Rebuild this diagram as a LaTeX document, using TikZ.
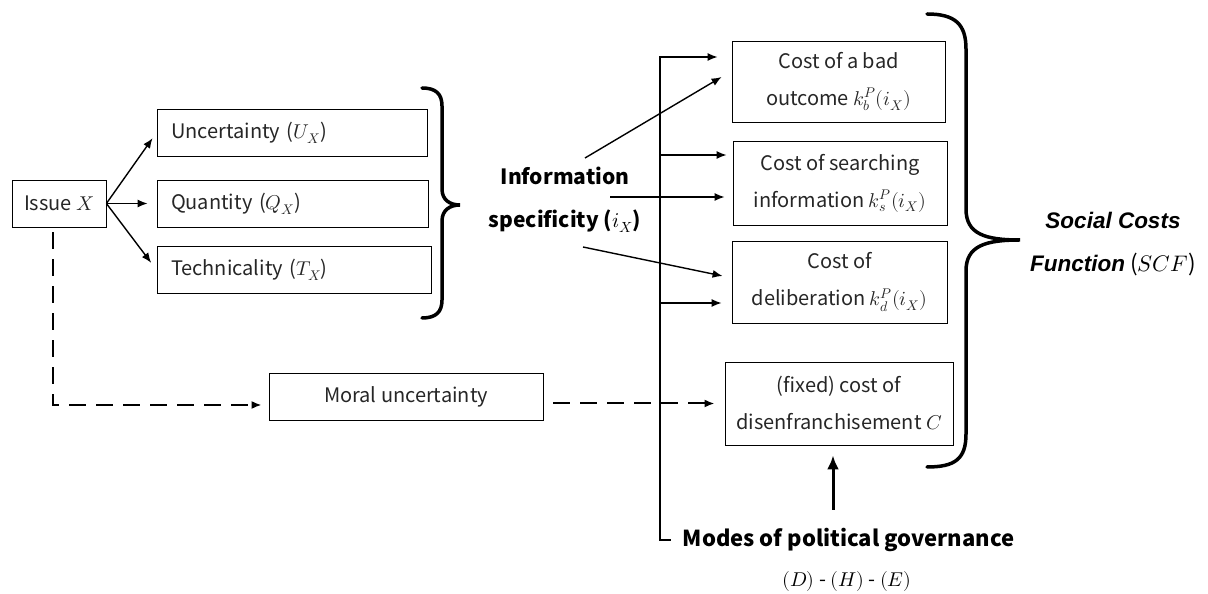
\documentclass[tikz,border=0pt]{standalone}
\usepackage{fontspec}
\usepackage{unicode-math}
\setmainfont{Noto Sans CJK JP}
\newfontfamily\scffont{Liberation Sans}
\usetikzlibrary{arrows.meta}
\begin{document}
\begin{tikzpicture}[x=1pt, y=1pt,
        box/.style={draw, line width=.8pt, inner sep=0pt, align=center, text=black!85, font=\fontsize{20}{37}\selectfont},
        listbox/.style={draw, line width=.8pt, inner xsep=14pt, inner ysep=0pt, text width=#1, minimum height=47pt, align=left, text=black!85, font=\fontsize{20}{24}\selectfont},
        arr/.style={line width=1.4pt, -{Latex[length=10pt,width=8pt]}},
        dasharr/.style={arr, line width=2pt, dash pattern=on 17pt off 10pt},
        brace/.style={line width=3.5pt, line cap=round}]
    \useasboundingbox (0,0) rectangle (1208,594);
    \node[box, minimum width=94pt, minimum height=47pt] (issue) at (59,390.5) {Issue $X$};
    \node[listbox=242pt] (unc) at (292,461.5) {Uncertainty ($U_X$)};
    \node[listbox=243pt] (qua) at (292.5,390.5) {Quantity ($Q_X$)};
    \node[listbox=246pt] (tec) at (294,324) {Technicality ($T_X$)};
    \node[box, minimum width=274pt, minimum height=47pt] (moral) at (406,197.5) {Moral uncertainty};
    \node[align=center, font=\bfseries\fontsize{21}{43}\selectfont] (info) at (565,394) {Information\\specificity ($i_X$)};
    \node[box, minimum width=213pt, minimum height=81pt] (bad) at (838.5,512.5) {Cost of a bad\\outcome $k_b^P(i_X)$};
    \node[box, minimum width=214pt, minimum height=84pt] (search) at (840,411) {Cost of searching\\information $k_s^P(i_X)$};
    \node[box, minimum width=215pt, minimum height=82pt] (delib) at (839.5,312) {Cost of\\deliberation $k_d^P(i_X)$};
    \node[box, minimum width=228pt, minimum height=83pt] (disf) at (839,190.5) {(fixed) cost of\\disenfranchisement $C$};
    \node[inner sep=0pt, font=\bfseries\fontsize{22}{26}\selectfont] (modes) at (848.5,54) {Modes of political governance};
    \node[font=\fontsize{20}{24}\selectfont] (dhe) at (847,12) {$(D)$ - $(H)$ - $(E)$};
    \node[align=center, font=\fontsize{22.5}{43}\selectfont] (scf) at (1113,350) {{\scffont\bfseries\itshape Social Costs}\\{\scffont\bfseries\itshape Function} ($SCF$)};
    \draw[arr, shorten >=7pt] (issue.east) -- (unc.west);
    \draw[arr, shorten >=9pt] (issue.east) -- (qua.west);
    \draw[arr, shorten >=9pt] (issue.east) -- (tec.west);
    \draw[dasharr] ([xshift=-6pt,yshift=-5pt]issue.south) |- ([shift={(-7,-8.5)}]moral.west);
    \draw[dasharr, shorten <=10pt, shorten >=10pt] (moral.east |- disf.west) -- (disf.west);
    \draw[brace] (422,506) .. controls (436,506) and (442,500) .. (442,488) -- (442,405)
        .. controls (442,394) and (450,389) .. (460,389) .. controls (450,389) and (442,384) .. (442,373)
        -- (442,294) .. controls (442,282) and (436,276) .. (422,276);
    \draw[arr] ([shift={(20,42)}]info.center) -- ([shift={(-10,4.5)}]bad.west);
    \draw[arr] ([shift={(45,3)}]info.center) -- ([shift={(-8,-14)}]search.west);
    \draw[arr] ([shift={(18,-47)}]info.center) -- ([shift={(-9,6)}]delib.west);
    \coordinate (bustop) at (660,537);
    \coordinate (busmid) at (660,439);
    \coordinate (buslow) at (660,291);
    \draw[line width=2.8pt] (bustop) -- (bustop |- modes.west) -- ([xshift=-12pt]modes.west);
    \draw[arr, shorten >=14pt] ([xshift=-1pt]bustop) -- (bustop -| bad.west);
    \draw[arr, shorten >=6pt] (busmid) -- (busmid -| search.west);
    \draw[arr, shorten >=10pt] (buslow) -- (buslow -| delib.west);
    \coordinate (upfoot) at (833,84);
    \draw[line width=3pt, -{Latex[length=14pt,width=12pt]}, shorten >=10pt] (upfoot) -- (upfoot |- disf.south);
    \draw[brace] (927,580) .. controls (955,580) and (966,570) .. (966,545) -- (966,385)
        .. controls (966,360) and (985,354) .. (1020,354) .. controls (985,354) and (966,348) .. (966,323)
        -- (966,160) .. controls (966,135) and (955,127) .. (927,127);
\end{tikzpicture}
\end{document}
